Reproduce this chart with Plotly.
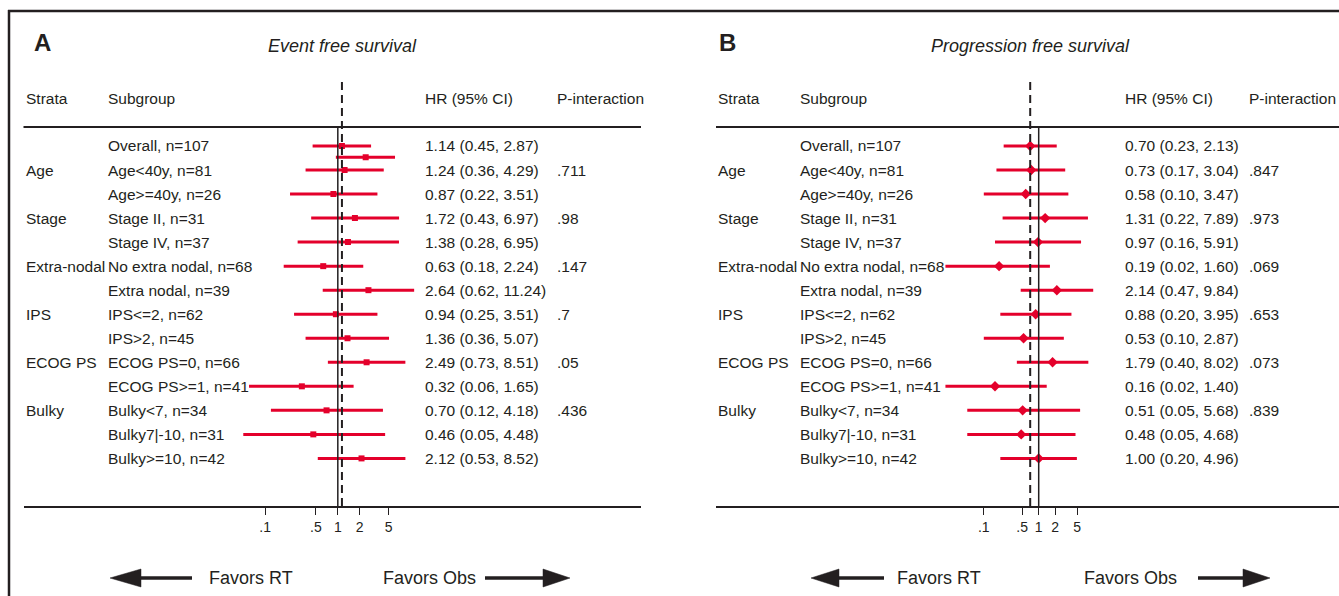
import plotly.graph_objects as go

# ---------------- data ----------------
subgroups = ["Overall, n=107", "Age<40y, n=81", "Age>=40y, n=26", "Stage II, n=31",
             "Stage IV, n=37", "No extra nodal, n=68", "Extra nodal, n=39", "IPS<=2, n=62",
             "IPS>2, n=45", "ECOG PS=0, n=66", "ECOG PS>=1, n=41", "Bulky<7, n=34",
             "Bulky7|-10, n=31", "Bulky>=10, n=42"]
strata = ["", "Age", "", "Stage", "", "Extra-nodal", "", "IPS", "", "ECOG PS", "", "Bulky", "", ""]

hr_efs = [1.14, 1.24, 0.87, 1.72, 1.38, 0.63, 2.64, 0.94, 1.36, 2.49, 0.32, 0.70, 0.46, 2.12]
lo_efs = [0.45, 0.36, 0.22, 0.43, 0.28, 0.18, 0.62, 0.25, 0.36, 0.73, 0.06, 0.12, 0.05, 0.53]
hi_efs = [2.87, 4.29, 3.51, 6.97, 6.95, 2.24, 11.24, 3.51, 5.07, 8.51, 1.65, 4.18, 4.48, 8.52]
p_efs = ["", ".711", "", ".98", "", ".147", "", ".7", "", ".05", "", ".436", "", ""]

# stray unlabeled interval drawn between the first two rows of panel A
extra_efs_row = [0.47]
extra_efs_hr = [2.42]
extra_efs_lo = [0.94]
extra_efs_hi = [6.13]

hr_pfs = [0.70, 0.73, 0.58, 1.31, 0.97, 0.19, 2.14, 0.88, 0.53, 1.79, 0.16, 0.51, 0.48, 1.00]
lo_pfs = [0.23, 0.17, 0.10, 0.22, 0.16, 0.02, 0.47, 0.20, 0.10, 0.40, 0.02, 0.05, 0.05, 0.20]
hi_pfs = [2.13, 3.04, 3.47, 7.89, 5.91, 1.60, 9.84, 3.95, 2.87, 8.02, 1.40, 5.68, 4.68, 4.96]
p_pfs = ["", ".847", "", ".973", "", ".069", "", ".653", "", ".073", "", ".839", "", ""]

tick_vals = [0.1, 0.5, 1, 2, 5]
tick_text = [".1", ".5", "1", "2", "5"]

# ---------------- layout helpers ----------------
W, H = 1339, 596
FONT = "Liberation Sans, Arial, Helvetica, sans-serif"
TXT = "#231f20"
RED = "#e4002b"


def px(x):
    return x / W


def py(y):
    return 1 - y / H


def esc(s):
    return s.replace("&", "&amp;").replace("<", "&lt;").replace(">", "&gt;")


rows = list(range(len(subgroups)))

fig = go.Figure()


def ci_xy(lo, hi, yy):
    xs, ys = [], []
    for a, b, r in zip(lo, hi, yy):
        xs += [a, b, None]
        ys += [r, r, None]
    return xs, ys


# Panel A traces
xs, ys = ci_xy(lo_efs, hi_efs, rows)
fig.add_trace(go.Scatter(x=xs, y=ys, mode="lines", line=dict(color=RED, width=3),
                         xaxis="x", yaxis="y", showlegend=False, hoverinfo="skip"))
xs, ys = ci_xy(extra_efs_lo, extra_efs_hi, extra_efs_row)
fig.add_trace(go.Scatter(x=xs, y=ys, mode="lines", line=dict(color=RED, width=3),
                         xaxis="x", yaxis="y", showlegend=False, hoverinfo="skip"))
fig.add_trace(go.Scatter(x=hr_efs + extra_efs_hr, y=rows + extra_efs_row, mode="markers",
                         marker=dict(color=RED, symbol="square", size=6),
                         xaxis="x", yaxis="y", showlegend=False))

# Panel B traces
xs, ys = ci_xy(lo_pfs, hi_pfs, rows)
fig.add_trace(go.Scatter(x=xs, y=ys, mode="lines", line=dict(color=RED, width=3),
                         xaxis="x2", yaxis="y2", showlegend=False, hoverinfo="skip"))
fig.add_trace(go.Scatter(x=hr_pfs, y=rows, mode="markers",
                         marker=dict(color=RED, symbol="diamond", size=8),
                         xaxis="x2", yaxis="y2", showlegend=False))

# axis geometry (pixel-derived)
ydom = [py(506), py(127)]
yrange = [14.98, -0.79]

xa = dict(type="log", showgrid=False, zeroline=False, showline=True, linecolor=TXT, linewidth=1.5,
          ticks="outside", ticklen=7, tickwidth=1.2, tickcolor=TXT,
          tickvals=tick_vals, ticktext=tick_text,
          tickfont=dict(family=FONT, size=14, color=TXT), fixedrange=True)
ya = dict(range=yrange, domain=ydom, visible=False, fixedrange=True)

fig.update_layout(
    width=W, height=H, autosize=False,
    margin=dict(l=0, r=0, t=0, b=0),
    paper_bgcolor="white", plot_bgcolor="rgba(0,0,0,0)",
    xaxis=dict(xa, domain=[px(23.5), px(641)], range=[-4.326, 4.173], anchor="y"),
    yaxis=dict(ya, anchor="x"),
    xaxis2=dict(xa, domain=[px(716), 1.0], range=[-5.878, 5.470], anchor="y2"),
    yaxis2=dict(ya, anchor="x2"),
    font=dict(family=FONT, color=TXT),
)

shapes = []
ann = []

# frame
shapes.append(dict(type="line", xref="paper", yref="paper", x0=px(9), x1=px(9), y0=py(10), y1=0,
                   line=dict(color=TXT, width=2.5)))
shapes.append(dict(type="line", xref="paper", yref="paper", x0=px(8), x1=1, y0=py(11), y1=py(11),
                   line=dict(color=TXT, width=2.5)))

panels = [
    dict(xr="x", letter="A", lx=32, title="Event free survival", tx=342,
         cols=(23.5, 106, 423, 555), line=(23.5, 641), hr=hr_efs, lo=lo_efs, hi=hi_efs, p=p_efs,
         ref=hr_efs[0], arrows=(110, 141, 192, 485, 543, 570), fav=(251, 429)),
    dict(xr="x2", letter="B", lx=717, title="Progression free survival", tx=1030,
         cols=(716, 798, 1123, 1247), line=(716, 1339), hr=hr_pfs, lo=lo_pfs, hi=hi_pfs, p=p_pfs,
         ref=hr_pfs[0], arrows=(811, 839, 884, 1198, 1243, 1270), fav=(939, 1130)),
]

for P in panels:
    yref = "y" if P["xr"] == "x" else "y2"
    # header line
    shapes.append(dict(type="line", xref="paper", yref="paper", x0=px(P["line"][0]), x1=px(P["line"][1]),
                       y0=py(127), y1=py(127), line=dict(color=TXT, width=2)))
    # null line at HR = 1
    shapes.append(dict(type="line", xref=P["xr"], yref=yref + " domain", x0=1, x1=1, y0=0, y1=1,
                       line=dict(color=TXT, width=1.5)))
    # dashed line at overall HR
    shapes.append(dict(type="line", xref=P["xr"], yref="paper", x0=P["ref"], x1=P["ref"],
                       y0=py(506), y1=py(78), line=dict(color=TXT, width=2, dash="8px,5px")))
    # letter and title
    ann.append(dict(x=px(P["lx"]), y=py(43), xref="paper", yref="paper", xanchor="left", yanchor="middle",
                    text="<b>%s</b>" % P["letter"], showarrow=False,
                    font=dict(family=FONT, size=24, color=TXT)))
    ann.append(dict(x=px(P["tx"]), y=py(46), xref="paper", yref="paper", xanchor="center", yanchor="middle",
                    text="<i>%s</i>" % P["title"], showarrow=False,
                    font=dict(family=FONT, size=18, color=TXT)))
    # headers
    for cx, t in zip(P["cols"], ["Strata", "Subgroup", "HR (95% CI)", "P-interaction"]):
        ann.append(dict(x=px(cx), y=py(98), xref="paper", yref="paper", xanchor="left", yanchor="middle",
                        text=t, showarrow=False, font=dict(family=FONT, size=15.5, color=TXT)))
    # rows
    for i in rows:
        cells = [strata[i], subgroups[i],
                 "%.2f (%.2f, %.2f)" % (P["hr"][i], P["lo"][i], P["hi"][i]), P["p"][i]]
        for cx, t in zip(P["cols"], cells):
            if t:
                ann.append(dict(x=px(cx), y=i, xref="paper", yref=yref, xanchor="left", yanchor="middle",
                                text=esc(t), showarrow=False,
                                font=dict(family=FONT, size=15.5, color=TXT)))
    # favors arrows
    ltip, lbase, lend, rstart, rbase, rtip = P["arrows"]
    ay = 578
    shapes.append(dict(type="line", xref="paper", yref="paper", x0=px(lbase - 2), x1=px(lend),
                       y0=py(ay), y1=py(ay), line=dict(color=TXT, width=3.5)))
    shapes.append(dict(type="path", xref="paper", yref="paper",
                       path="M %f,%f L %f,%f L %f,%f Z" % (px(ltip), py(ay), px(lbase), py(ay - 9),
                                                         px(lbase), py(ay + 9)),
                       fillcolor=TXT, line=dict(color=TXT, width=0.5)))
    shapes.append(dict(type="line", xref="paper", yref="paper", x0=px(rstart), x1=px(rbase + 2),
                       y0=py(ay), y1=py(ay), line=dict(color=TXT, width=3.5)))
    shapes.append(dict(type="path", xref="paper", yref="paper",
                       path="M %f,%f L %f,%f L %f,%f Z" % (px(rtip), py(ay), px(rbase), py(ay - 9),
                                                         px(rbase), py(ay + 9)),
                       fillcolor=TXT, line=dict(color=TXT, width=0.5)))
    for cx, t in zip(P["fav"], ["Favors RT", "Favors Obs"]):
        ann.append(dict(x=px(cx), y=py(ay), xref="paper", yref="paper", xanchor="center", yanchor="middle",
                        text=t, showarrow=False, font=dict(family=FONT, size=18, color=TXT)))

fig.update_layout(shapes=shapes, annotations=ann)
fig.write_html("out.html", config={"displayModeBar": False},
               post_script="document.body.style.margin='0';document.body.style.padding='0';"
                           "document.body.style.overflow='hidden';")
